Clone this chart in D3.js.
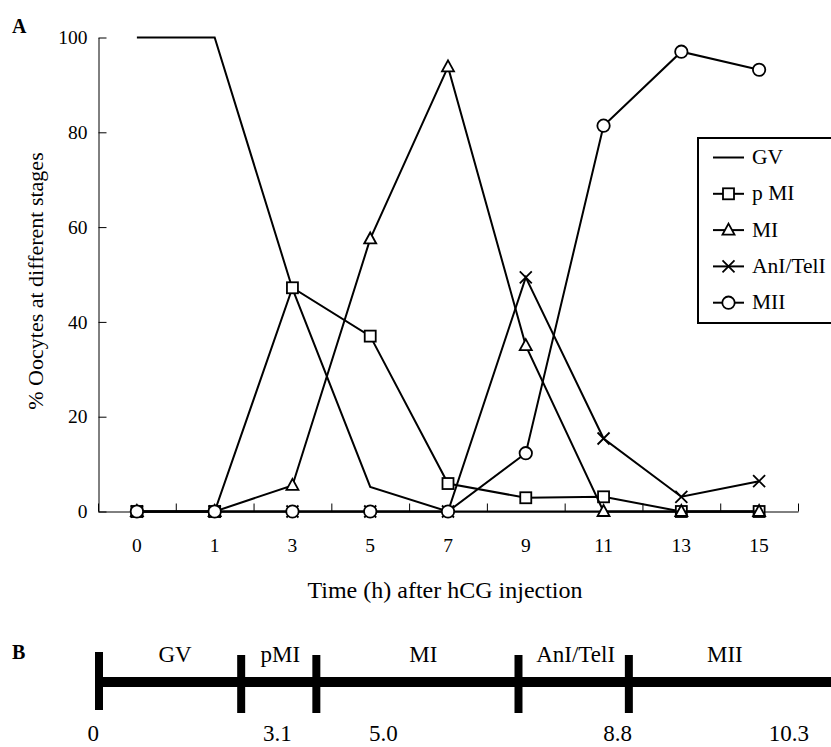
<!DOCTYPE html>
<html>
<head>
<meta charset="utf-8">
<script src="https://cdn.jsdelivr.net/npm/d3@7"></script>
<style>
  body { margin: 0; background: #fff; }
  svg { display: block; font-family: "Liberation Serif", "Times New Roman", serif; }
</style>
</head>
<body>
<div id="viz"></div>
<script>
// time points after hCG (category axis)
var hours = ["0", "1", "3", "5", "7", "9", "11", "13", "15"];
var yTicks = [0, 20, 40, 60, 80, 100];

// % oocytes at each stage
var gv    = [100, 100, 47, 5.2, 0, 0, 0, 0, 0];
var pmi   = [0, 0, 47.2, 37, 5.9, 2.9, 3.1, 0, 0];
var mi    = [0, 0, 5.5, 57.5, 93.8, 35, 0, 0, 0];
var antel = [0, 0, 0, 0, 0, 49.4, 15.4, 3.1, 6.4];
var mii   = [0, 0, 0, 0, 0, 12.3, 81.4, 97, 93.2];

var seriesNames = ["GV", "p MI", "MI", "AnI/TelI", "MII"];
var seriesMarks = ["none", "square", "triangle", "cross", "circle"];

// panel B timeline (schematic units along the bar)
var stageNames = ["GV", "pMI", "MI", "AnI/TelI", "MII"];
var stageStarts = [0, 2.525, 3.86, 7.45, 9.41];
var stageLabelAt = [1.35, 3.22, 5.76, 8.465, 11.115];
var timeLabels = ["0", "3.1", "5.0", "8.8", "10.3"];
var timeLabelAt = [-0.1, 3.17, 5.05, 9.21, 12.25];

var W = 831, H = 747;
var svg = d3.select("#viz").append("svg")
    .attr("width", W)
    .attr("height", H);

var x = d3.scaleBand().domain(hours).range([98, 798]);
var xEdge = d3.scaleLinear().domain([0, hours.length]).range([98, 798]);
var y = d3.scaleLinear().domain([0, 100]).range([511.5, 37.5]);
function cx(h) { return x(h) + x.bandwidth() / 2; }

// axes
svg.append("g")
    .attr("transform", "translate(98.5,0)")
    .call(d3.axisLeft(y).tickValues(yTicks).tickSizeInner(-8).tickSizeOuter(0).tickPadding(11))
    .call(function(g) {
        g.attr("font-family", null).attr("font-size", null);
        g.selectAll("text").style("font-size", "19.5px").attr("fill", "#000");
        g.selectAll("line,path").attr("stroke", "#000");
    });

svg.append("g")
    .attr("transform", "translate(0,511.5)")
    .call(d3.axisTop(xEdge).tickValues(d3.range(hours.length + 1))
        .tickSizeInner(8).tickSizeOuter(0).tickFormat(""))
    .call(function(g) { g.selectAll("line,path").attr("stroke", "#000"); });

svg.append("g")
    .attr("transform", "translate(0,511.5)")
    .call(d3.axisBottom(x).tickSize(0).tickPadding(27))
    .call(function(g) {
        g.attr("font-family", null).attr("font-size", null);
        g.select(".domain").remove();
        g.selectAll("text").style("font-size", "19.5px").attr("fill", "#000");
    });

svg.append("text")
    .attr("x", 445).attr("y", 598)
    .attr("text-anchor", "middle")
    .style("font-size", "24px")
    .text("Time (h) after hCG injection");

svg.append("text")
    .attr("transform", "translate(43,281) rotate(-90)")
    .attr("text-anchor", "middle")
    .style("font-size", "22px")
    .text("% Oocytes at different stages");

svg.append("text")
    .attr("x", 12).attr("y", 33)
    .style("font-size", "20px").style("font-weight", "bold")
    .text("A");

// markers
function drawMark(g, type, px, py) {
    var m;
    if (type === "square") {
        m = g.append("rect").attr("x", px - 5.5).attr("y", py - 5.5).attr("width", 11).attr("height", 11);
    } else if (type === "triangle") {
        m = g.append("path").attr("d", "M" + px + "," + (py - 6.5) + "L" + (px + 6) + "," + (py + 4.5) + "L" + (px - 6) + "," + (py + 4.5) + "Z");
    } else if (type === "cross") {
        m = g.append("path").attr("d", "M" + (px - 6) + "," + (py - 6) + "L" + (px + 6) + "," + (py + 6) +
            "M" + (px + 6) + "," + (py - 6) + "L" + (px - 6) + "," + (py + 6));
    } else if (type === "circle") {
        m = g.append("circle").attr("cx", px).attr("cy", py).attr("r", 6.2);
    } else {
        return;
    }
    m.attr("fill", "#fff").attr("stroke", "#000").attr("stroke-width", 1.8);
}

var allSeries = [gv, pmi, mi, antel, mii];
var line = d3.line()
    .x(function(d, i) { return cx(hours[i]); })
    .y(function(d) { return y(d); });

allSeries.forEach(function(vals, s) {
    var g = svg.append("g");
    g.append("path")
        .attr("d", line(vals))
        .attr("fill", "none")
        .attr("stroke", "#000")
        .attr("stroke-width", 2);
    vals.forEach(function(v, i) {
        drawMark(g, seriesMarks[s], cx(hours[i]), y(v));
    });
});

// legend
var leg = svg.append("g");
leg.append("rect")
    .attr("x", 698).attr("y", 138)
    .attr("width", 160).attr("height", 185)
    .attr("fill", "#fff").attr("stroke", "#000").attr("stroke-width", 2);
seriesNames.forEach(function(name, i) {
    var ly = 157.5 + i * 36.3;
    leg.append("line")
        .attr("x1", 713).attr("x2", 744).attr("y1", ly).attr("y2", ly)
        .attr("stroke", "#000").attr("stroke-width", 2);
    drawMark(leg, seriesMarks[i], 728.5, ly);
    leg.append("text")
        .attr("x", 752).attr("y", ly + 6.5)
        .style("font-size", "21.5px")
        .text(name);
});

// panel B
var tx = d3.scaleLinear().domain([0, 13]).range([99, 831]);
var by = 682;

svg.append("text")
    .attr("x", 12).attr("y", 659)
    .style("font-size", "20px").style("font-weight", "bold")
    .text("B");

svg.append("line")
    .attr("x1", tx(0)).attr("x2", tx(13) + 5)
    .attr("y1", by).attr("y2", by)
    .attr("stroke", "#000").attr("stroke-width", 10);

svg.selectAll(".stagebar")
    .data(stageStarts)
    .enter().append("line")
    .attr("class", "stagebar")
    .attr("x1", function(d) { return tx(d); })
    .attr("x2", function(d) { return tx(d); })
    .attr("y1", function(d, i) { return i === 0 ? 652 : 655; })
    .attr("y2", function(d, i) { return i === 0 ? 710 : 713; })
    .attr("stroke", "#000").attr("stroke-width", 8);

svg.selectAll(".stagename")
    .data(stageNames)
    .enter().append("text")
    .attr("class", "stagename")
    .attr("x", function(d, i) { return tx(stageLabelAt[i]); })
    .attr("y", 662)
    .attr("text-anchor", "middle")
    .style("font-size", "23px")
    .text(function(d) { return d; });

svg.selectAll(".timelabel")
    .data(timeLabels)
    .enter().append("text")
    .attr("class", "timelabel")
    .attr("x", function(d, i) { return tx(timeLabelAt[i]); })
    .attr("y", 741)
    .attr("text-anchor", "middle")
    .style("font-size", "23px")
    .text(function(d) { return d; });
</script>
</body>
</html>
